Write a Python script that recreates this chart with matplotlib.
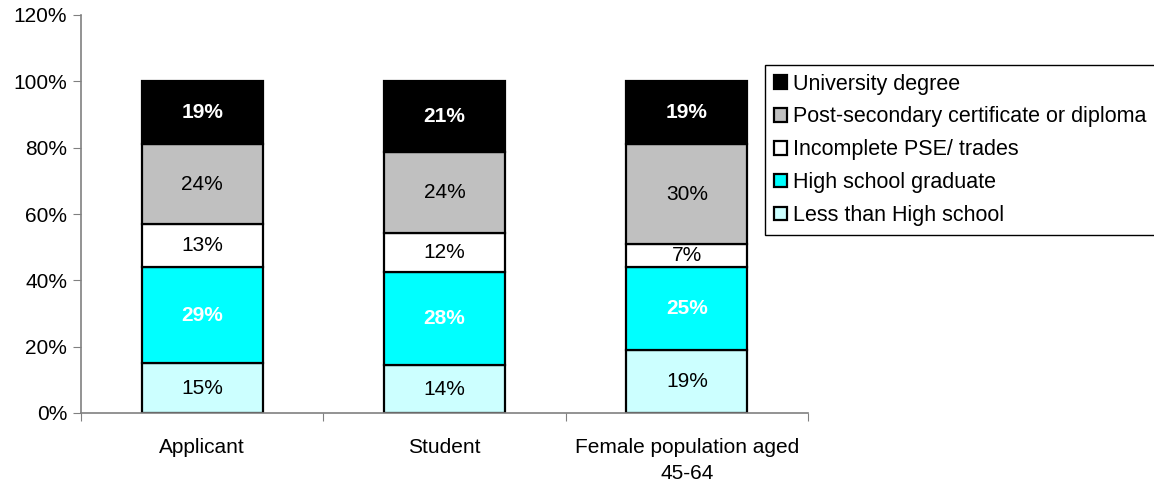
import numpy as np
import matplotlib.pyplot as plt
from matplotlib.ticker import PercentFormatter

plt.rcParams['font.family'] = ['Liberation Sans', 'DejaVu Sans']

categories = ['Applicant', 'Student', 'Female population aged\n45-64']
series = ['Less than High school', 'High school graduate', 'Incomplete PSE/ trades',
          'Post-secondary certificate or diploma', 'University degree']
less_hs = [15, 14.4, 19]
hs_grad = [29, 28.0, 25]
incomplete = [13, 11.8, 7]
post_sec = [24, 24.4, 30]
university = [19, 21.4, 19]

colors = ['#ccffff', '#00ffff', '#ffffff', '#c0c0c0', '#000000']
text_styles = [('black', 'normal'), ('white', 'bold'), ('black', 'normal'),
               ('black', 'normal'), ('white', 'bold')]
FS = 15

fig = plt.figure(figsize=(11.54, 4.87), dpi=100)
ax = fig.add_axes([81 / 1154, 74 / 487, 727 / 1154, 398 / 487])

x = np.arange(len(categories))
bottom = np.zeros(len(categories))
handles = []
for vals, name, col, (tc, tw) in zip([less_hs, hs_grad, incomplete, post_sec, university],
                                     series, colors, text_styles):
    vals = np.array(vals, dtype=float)
    b = ax.bar(x, vals, 0.5, bottom=bottom, color=col, edgecolor='black',
               linewidth=1.6, label=name)
    handles.append(b)
    for xi, v, bt in zip(x, vals, bottom):
        ax.text(xi, bt + v / 2, f'{round(v):d}%', ha='center', va='center',
                color=tc, fontweight=tw, fontsize=FS)
    bottom += vals

ax.set_xlim(-0.5, 2.5)
ax.set_ylim(0, 120)
ax.set_yticks(range(0, 121, 20))
ax.yaxis.set_major_formatter(PercentFormatter(decimals=0))
ax.set_xticks([-0.5, 0.5, 1.5, 2.5], minor=False)
ax.set_xticklabels([])
ax.set_xticks(x, minor=True)
ax.set_xticklabels(categories, minor=True, fontsize=FS, linespacing=1.45)
ax.tick_params(axis='x', which='minor', length=0, pad=18)
ax.tick_params(axis='x', which='major', length=6, color='#808080', direction='out')
ax.tick_params(axis='y', length=6, color='#808080', labelsize=FS, pad=4)
for s in ['top', 'right']:
    ax.spines[s].set_visible(False)
for s in ['left', 'bottom']:
    ax.spines[s].set_color('#808080')
    ax.spines[s].set_linewidth(1.2)

leg = fig.legend(handles[::-1], series[::-1], loc='upper left',
                 bbox_to_anchor=(765 / 1154, 1 - 65 / 487), fontsize=15.5,
                 frameon=True, fancybox=False, edgecolor='black', framealpha=1,
                 handlelength=0.6, handleheight=0.6, handletextpad=0.3,
                 labelspacing=0.55, borderpad=0.4, borderaxespad=0)
leg.get_frame().set_linewidth(1.0)

fig.savefig('out.png', dpi=100)
